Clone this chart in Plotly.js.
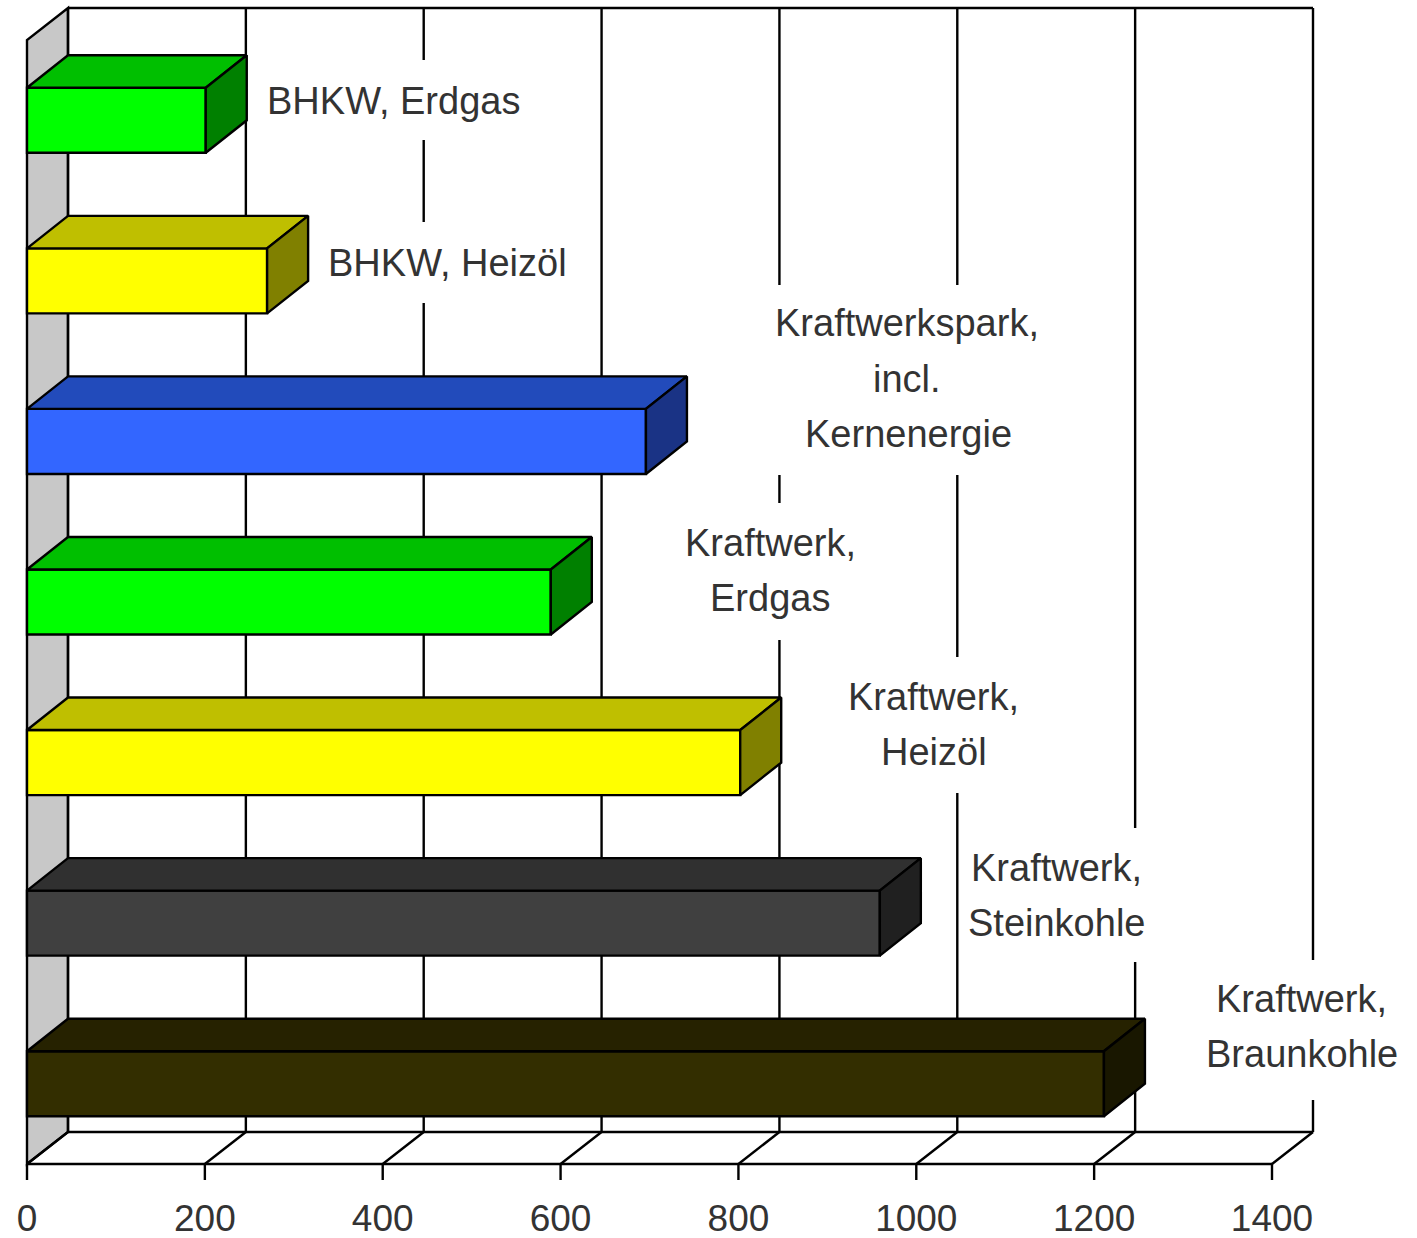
<!DOCTYPE html>
<html>
<head>
<meta charset="utf-8">
<script src="https://cdn.plot.ly/plotly-3.0.1.min.js"></script>
<style>html,body{margin:0;padding:0;background:#fff}</style>
</head>
<body>
<div id="chart" style="width:1417px;height:1238px"></div>
<script>
// Data, bottom to top
const categories = ["Kraftwerk, Braunkohle","Kraftwerk, Steinkohle","Kraftwerk, Heizöl","Kraftwerk, Erdgas","Kraftwerkspark, incl. Kernenergie","BHKW, Heizöl","BHKW, Erdgas"];
const values = [1211, 959, 802, 589, 696, 270, 201];
const tickValues = [0,200,400,600,800,1000,1200,1400];
const frontColors = ["#332e00","#404040","#ffff00","#00ff00","#3366ff","#ffff00","#00ff00"];
const topColors   = ["#262200","#303030","#bfbf00","#00bf00","#224bbb","#bfbf00","#00bf00"];
const sideColors  = ["#191700","#202020","#808000","#008000","#1a3385","#808000","#008000"];
const labelLines = [
  ["Kraftwerk,","Braunkohle"],
  ["Kraftwerk,","Steinkohle"],
  ["Kraftwerk,","Heizöl"],
  ["Kraftwerk,","Erdgas"],
  ["Kraftwerkspark,","incl.","Kernenergie"],
  ["BHKW, Heizöl"],
  ["BHKW, Erdgas"]
];

// Layout (pixels of the picture)
const W = 1417, H = 1238;
const pad = 5;                                   // room so that border lines are not clipped
const tickLen = 16;
const frontL = 27, wallR = 1313, wallT = 8, frontB = 1164;
const pxPerUnit = (1272 - 27) / 1400;
const pxPerCat = 160.57;
const depthX = 41 / pxPerUnit;                   // x units
const depthY = 32 / pxPerCat;                    // category units
const barDepthY = 32.5 / pxPerCat;
const dataX = px => (px - frontL) / pxPerUnit;
const dataY = py => -0.5 + (frontB - py) / pxPerCat;
const yMin = -0.5, yMax = dataY(wallT);
const lastTick = tickValues[tickValues.length-1];
const barHalf = 0.2025;

// text centres and white label boxes [x0,y0,x1,y1]
const labelCentres = [
  [[1301,999],[1302,1054]],
  [[1056,868],[1056,923]],
  [[933,697],[934,752]],
  [[770,543],[770,598]],
  [[907,323],[907,379],[908,434]],
  [[447,263]],
  [[393,101]]
];
const labelBoxes = [
  [1200,960,1405,1100],
  [965,828,1150,962],
  [842,657,1025,793],
  [680,503,860,640],
  [770,285,1045,475],
  [320,222,575,303],
  [255,60,530,140]
];

const lineStyle = {color:"#000", width:2.4};
const shapes = [];
const seg = (x0,y0,x1,y1) => shapes.push({type:"line",xref:"x",yref:"y",x0,y0,x1,y1,line:lineStyle,layer:"below"});

// side wall
shapes.push({type:"path",xref:"x",yref:"y",layer:"below",
  path:`M0,${yMin} L${depthX},${yMin+depthY} L${depthX},${yMax} L0,${yMax-depthY} Z`,
  fillcolor:"#c8c8c8",line:lineStyle});
// back wall, floor grid and ticks
tickValues.forEach(v=>{
  seg(v+depthX,yMin+depthY,v+depthX,yMax);
  seg(v,yMin,v+depthX,yMin+depthY);
  seg(v,yMin,v,yMin-tickLen/pxPerCat);
});
seg(depthX,yMax,lastTick+depthX,yMax);
seg(depthX,yMin+depthY,lastTick+depthX,yMin+depthY);
seg(0,yMin,lastTick,yMin);
// white label boxes interrupt the grid
labelBoxes.forEach(b=>shapes.push({type:"rect",xref:"x",yref:"y",layer:"below",
  x0:dataX(b[0]),x1:dataX(b[2]),y0:dataY(b[1]),y1:dataY(b[3]),fillcolor:"#fff",line:{width:0}}));

const idx = categories.map((_,i)=>i);
const traces = [{
  type:"bar",orientation:"h",y:idx,x:values,width:barHalf*2,
  text:categories,hoverinfo:"text+x",textposition:"none",
  marker:{color:frontColors,line:{color:"#000",width:2.4}}
}];
const face = (xs,ys,c,name)=>traces.push({type:"scatter",mode:"lines",x:xs,y:ys,fill:"toself",fillcolor:c,
  line:lineStyle,cliponaxis:false,hoverinfo:"skip",name});
idx.forEach(i=>{
  const v = values[i], t = i+barHalf, b = i-barHalf;
  face([0,depthX,v+depthX,v,0],[t,t+barDepthY,t+barDepthY,t,t],topColors[i],categories[i]+" top");
  face([v,v+depthX,v+depthX,v,v],[b,b+barDepthY,t+barDepthY,t,b],sideColors[i],categories[i]+" side");
});

const annotations = [];
labelLines.forEach((lines,i)=>lines.forEach((s,j)=>annotations.push({
  text:s,xref:"x",yref:"y",x:dataX(labelCentres[i][j][0]),y:dataY(labelCentres[i][j][1]),
  xanchor:"center",yanchor:"middle",showarrow:false,
  font:{family:"Liberation Sans, Arial, sans-serif",size:38,color:"#333"}
})));

const plotL = frontL-pad, plotR = wallR+pad, plotT = wallT-pad, plotB = frontB+tickLen+1;
const layout = {
  width:W,height:H,showlegend:false,
  paper_bgcolor:"#fff",plot_bgcolor:"#fff",
  margin:{l:plotL,r:W-plotR,t:plotT,b:H-plotB,pad:0},
  xaxis:{range:[dataX(plotL),dataX(plotR)],tickmode:"array",tickvals:tickValues,ticktext:tickValues.map(String),
    showgrid:false,zeroline:false,showline:false,ticks:"",
    ticklabelstandoff:12,
    tickfont:{family:"Liberation Sans, Arial, sans-serif",size:37,color:"#333"}},
  yaxis:{range:[dataY(plotB),dataY(plotT)],showgrid:false,zeroline:false,showline:false,showticklabels:false,ticks:""},
  bargap:0.6,shapes,annotations
};
Plotly.newPlot("chart",traces,layout,{displayModeBar:false,staticPlot:true});
</script>
</body>
</html>
